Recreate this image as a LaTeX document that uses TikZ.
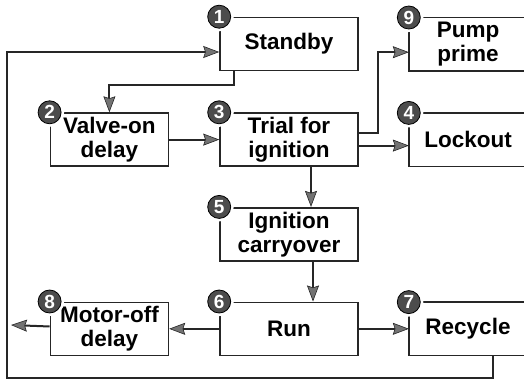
\documentclass[tikz,border=0pt]{standalone}
\usepackage{fontspec}
\setmainfont{Liberation Sans}
\usetikzlibrary{arrows.meta, positioning, calc}

\begin{document}
\begin{tikzpicture}[
        x=1pt, y=-1pt,
        node distance=40pt and 50pt,
        block/.style={rectangle, draw=black!85, line width=1.6pt, align=center, minimum height=53pt, inner sep=2pt, font=\fontsize{22.5}{24}\selectfont\bfseries},
        openblock/.style={rectangle, text width=118pt, inner xsep=0pt, align=center, minimum height=53pt, font=\fontsize{22.5}{24}\selectfont\bfseries},
        frame/.style={draw=black!85, line width=1.6pt},
        num/.style={circle, fill=black!70, draw=black, line width=0.8pt, text=white, inner sep=0pt, minimum size=23pt, font=\fontsize{19}{19}\selectfont\bfseries, preaction={draw=white, line width=6pt}},
        line/.style={draw=black!85, line width=2pt, -{Stealth[length=16pt, width=12pt, inset=2pt, line width=0.6pt, fill=black!55]}}
    ]
        \useasboundingbox (0,0) rectangle (524,381);
        \clip (0,0) rectangle (524,381);

        \node [block, minimum width=138pt] (standby) at (289,44) {Standby};
        \node [block, minimum width=138pt, below=41pt of standby] (trial) {Trial for\\ignition};
        \node [block, minimum width=138pt, below=of trial] (ign) {Ignition\\carryover};
        \node [block, minimum width=138pt, below=of ign] (run) {Run};
        \node [block, minimum width=118pt, left=of trial] (valve) {Valve-on\\delay};
        \node [block, minimum width=118pt, left=of run] (motor) {Motor-off\\delay};
        \node [openblock, right=of trial] (lock) {Lockout};
        \node [openblock, above=42pt of lock] (pump) {Pump\\prime};
        \node [openblock, right=of run] (rec) {Recycle};

        % boxes running off the right edge
        \draw[frame] (lock.north west) rectangle ([xshift=30pt]lock.south east);
        \draw[frame] (pump.north west) rectangle ([xshift=30pt]pump.south east);
        \draw[frame] (rec.north west) rectangle ([xshift=30pt]rec.south east);

        \coordinate (exit) at (11,325);
        \coordinate (loop) at (7,378);

        \draw[line] ([xshift=15pt]standby.south west) -- ++(0,14) -| (valve.north);
        \draw[line] (valve) -- (trial);
        \draw[line] ([yshift=7pt]trial.east) -- ++(19,0) |- ([yshift=-8pt]pump.west);
        \draw[line] ([yshift=-6pt]trial.east) -- ([yshift=-6pt]lock.west);
        \draw[line] ([xshift=22pt]trial.south) -- ([xshift=22pt]ign.north);
        \draw[line] ([xshift=24pt]ign.south) -- ([xshift=24pt]run.north);
        \draw[line] (run) -- (rec);
        \draw[line] (run) -- (motor);
        \draw[line] (motor) -- (exit);
        \draw[line] ([xshift=84pt]rec.south west) |- (loop) |- ([yshift=-8pt]standby.west);

        % step numbers
        \node [num] (n1) at (standby.north west) {1};
        \node [num] (n2) at (valve.north west) {2};
        \node [num] (n3) at (trial.north west) {3};
        \node [num] (n4) at (lock.north west) {4};
        \node [num] (n5) at (ign.north west) {5};
        \node [num] (n6) at (run.north west) {6};
        \node [num] (n7) at (rec.north west) {7};
        \node [num] (n8) at (motor.north west) {8};
        \node [num] (n9) at (pump.north west) {9};
    \end{tikzpicture}
\end{document}
